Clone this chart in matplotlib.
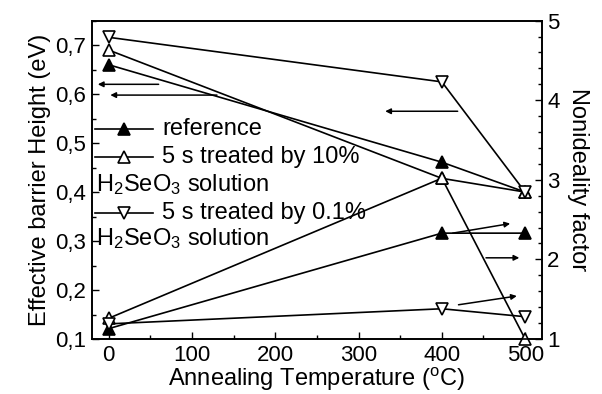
import numpy as np
import matplotlib
matplotlib.use('Agg')
import matplotlib.pyplot as plt
from matplotlib.ticker import MultipleLocator, FuncFormatter

plt.rcParams['font.family'] = ['Liberation Sans', 'DejaVu Sans']
plt.rcParams['mathtext.fontset'] = 'custom'
plt.rcParams['mathtext.rm'] = 'Liberation Sans'
plt.rcParams['mathtext.it'] = 'Liberation Sans:italic'
plt.rcParams['font.size'] = 16

# annealing temperature (C)
temp = [0, 400, 500]
# effective barrier height (eV), left axis
barrier_ref = [0.66, 0.461, 0.40]
barrier_10 = [0.69, 0.428, 0.40]
barrier_01 = [0.716, 0.625, 0.40]
# nonideality factor, right axis
n_ref = [1.13, 2.33, 2.33]
n_10 = [1.26, 3.02, 1.0]
n_01 = [1.19, 1.38, 1.28]

labels = ['reference', '5 s treated by 10%', '5 s treated by 0.1%']
second_line = 'H$_2$SeO$_3$ solution'

# arrows (tail, head) marking which axis a group belongs to
left_arrows = [((60, 0.620), (-13, 0.620)),
               ((130, 0.598), (2, 0.598)),
               ((419, 0.565), (332, 0.565))]
right_arrows = [((413, 2.33), (482, 2.45)),
                ((453, 2.02), (493, 2.02)),
                ((420, 1.43), (490, 1.54))]

fig = plt.figure(figsize=(6.02, 3.94), dpi=100)
ax = fig.add_axes([0.1528, 0.1396, 0.7472, 0.808])
ax2 = ax.twinx()

lw = 1.2
ms = 8.5
styles = [dict(marker='^', mfc='black'),
          dict(marker='^', mfc='white'),
          dict(marker='v', mfc='white')]

for y, st in zip([barrier_ref, barrier_10, barrier_01], styles):
    ax.plot(temp, y, color='black', lw=lw, ms=ms, mec='black', mew=1.2,
            clip_on=False, **st)
for y, st in zip([n_ref, n_10, n_01], styles):
    ax2.plot(temp, y, color='black', lw=lw, ms=ms, mec='black', mew=1.2,
             clip_on=False, **st)

for tail, head in left_arrows:
    ax.annotate('', xy=head, xytext=tail,
                arrowprops=dict(arrowstyle='-|>', color='black', lw=1.1,
                                mutation_scale=8, shrinkA=0, shrinkB=0))
for tail, head in right_arrows:
    ax2.annotate('', xy=head, xytext=tail,
                 arrowprops=dict(arrowstyle='-|>', color='black', lw=1.1,
                                 mutation_scale=8, shrinkA=0, shrinkB=0))

ax.set_xlim(-20, 520)
ax.set_ylim(0.1, 0.75)
ax2.set_ylim(1, 5)

ax.xaxis.set_major_locator(MultipleLocator(100))
ax.xaxis.set_minor_locator(MultipleLocator(50))
ax.yaxis.set_major_locator(MultipleLocator(0.1))
ax.yaxis.set_minor_locator(MultipleLocator(0.05))
ax2.yaxis.set_major_locator(MultipleLocator(1))
ax2.yaxis.set_minor_locator(MultipleLocator(0.2))
ax.yaxis.set_major_formatter(FuncFormatter(lambda v, p: ('%.1f' % v).replace('.', ',')))

for a in (ax, ax2):
    a.tick_params(which='both', direction='in', width=1.0)
    a.tick_params(which='major', length=5, labelsize=16, pad=4)
    a.tick_params(which='minor', length=3)
    for s in a.spines.values():
        s.set_linewidth(1.2)
ax.tick_params(axis='x', which='both', top=False)
ax.tick_params(axis='y', which='both', right=False)

ax.set_xlabel('Annealing Temperature ($^{\\mathrm{o}}$C)', fontsize=17, labelpad=0)
ax.set_ylabel('Effective barrier Height (eV)', fontsize=17, labelpad=3)
ax2.set_ylabel('Nonideality factor', fontsize=17, rotation=270, labelpad=21)

# hand-made legend: the second text lines start at the left edge of the handles
rows = [0.660, 0.572, 0.484, 0.396, 0.314]
x0, x1, xt = 0.0067, 0.136, 0.1556
for r, st, lab in zip([rows[0], rows[1], rows[3]], styles, labels):
    ax2.plot([x0, x1], [r, r], color='black', lw=lw, transform=ax2.transAxes)
    ax2.plot([(x0 + x1) / 2], [r], ls='none', ms=ms, mec='black', mew=1.2,
             transform=ax2.transAxes, **st)
    ax2.text(xt, r, lab, transform=ax2.transAxes, va='center', ha='left', fontsize=17)
for r in (rows[2], rows[4]):
    ax2.text(0.009, r, second_line, transform=ax2.transAxes,
             va='center', ha='left', fontsize=17)

fig.savefig('out.png', dpi=100)
